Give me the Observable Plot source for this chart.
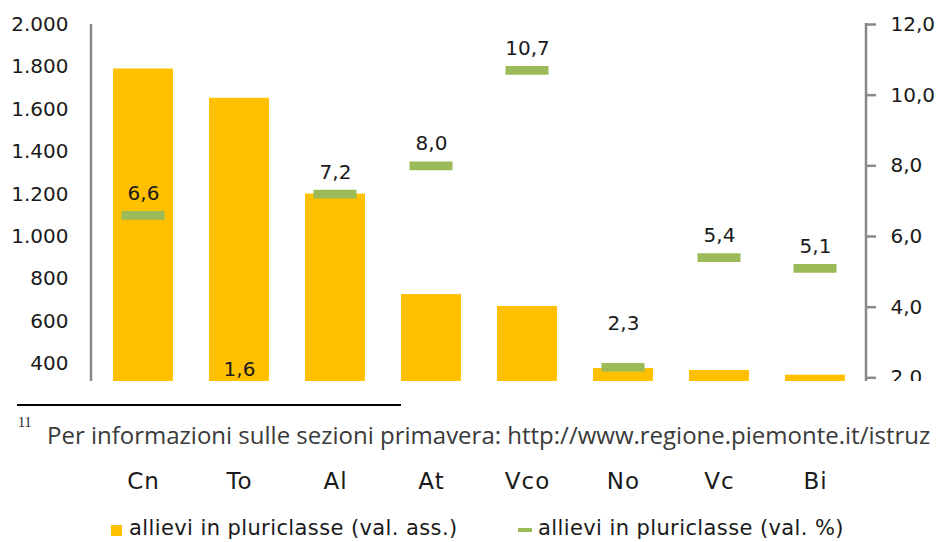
<!DOCTYPE html>
<html>
<head>
<meta charset="utf-8">
<script src="https://cdn.jsdelivr.net/npm/d3@7"></script>
<script src="https://cdn.jsdelivr.net/npm/@observablehq/plot@0.6"></script>
<style>
  html, body { margin: 0; padding: 0; background: #fff; }
  #wrap { position: relative; width: 936px; height: 542px; overflow: hidden; font-family: "DejaVu Sans", sans-serif; color: #1a1a1a; }
  #wrap svg { position: absolute; left: 0; top: 0; }
  #foot { position: absolute; left: 0; top: 381px; width: 936px; height: 73px; background: #fff; overflow: hidden; }
  #foot .rule { position: absolute; left: 17px; top: 23px; width: 384px; height: 2px; background: #000; }
  #foot .sup { position: absolute; left: 18px; top: 34px; font-family: "Liberation Serif", serif; font-size: 14px; color: #222; }
  #foot .txt { position: absolute; left: 47px; top: 42px; font-family: "Open Sans", sans-serif; font-size: 24px; color: #3a3a3a; white-space: nowrap; line-height: 1; }
  .leg { position: absolute; font-size: 21px; letter-spacing: 0.4px; white-space: nowrap; line-height: 1; }
  .sw { position: absolute; }
</style>
</head>
<body>
<div id="wrap"></div>
<script>
const categories = ["Cn", "To", "Al", "At", "Vco", "No", "Vc", "Bi"];
const allieviAss = [1790, 1652, 1200, 726, 670, 377, 368, 346];
const allieviPct = [6.6, 1.6, 7.2, 8.0, 10.7, 2.3, 5.4, 5.1];
const leftTicks = [400, 600, 800, 1000, 1200, 1400, 1600, 1800, 2000];
const rightTicks = [2, 4, 6, 8, 10, 12];
const seriesNames = ["allievi in pluriclasse (val. ass.)", "allievi in pluriclasse (val. %)"];
const footnoteNumber = "11";
const footnoteText = "Per informazioni sulle sezioni primavera: http://www.regione.piemonte.it/istruz";

const it = d3.formatLocale({decimal: ",", thousands: ".", grouping: [3], currency: ["", " €"]});
const fmtInt = it.format(",");
const fmtPct = it.format(",.1f");

const data = categories.map((c, i) => ({cat: c, ass: allieviAss[i], pct: allieviPct[i]}));

const BAR = "#FFC000", GREEN = "#9BBB59", AXIS = "#898989";
const common = {
  width: 936, height: 500,
  marginTop: 24, marginBottom: 52, marginLeft: 91, marginRight: 70,
  style: {fontFamily: "'DejaVu Sans', sans-serif", fontSize: "20px", color: "#1a1a1a", background: "transparent", overflow: "visible"}
};
const xScale = {domain: categories, paddingInner: 0.38, paddingOuter: 0.19, label: null};

function vline(getX, extend) {
  return (index, scales, values, dim) => {
    const l = document.createElementNS("http://www.w3.org/2000/svg", "line");
    const x = getX(dim);
    l.setAttribute("x1", x); l.setAttribute("x2", x);
    l.setAttribute("y1", dim.marginTop - extend); l.setAttribute("y2", dim.height - dim.marginBottom);
    l.setAttribute("stroke", AXIS); l.setAttribute("stroke-width", 2.5);
    return l;
  };
}

const p1 = Plot.plot({
  ...common,
  x: xScale,
  y: {domain: [0, 2000], label: null},
  marks: [
    Plot.barY(data, {x: "cat", y: "ass", fill: BAR}),
    Plot.axisY({ticks: leftTicks, tickSize: 0, tickPadding: 23, tickFormat: fmtInt, label: null, fontSize: 20}),
    Plot.axisX({tickSize: 0, tickPadding: 24, label: null, fontSize: 23, style: "letter-spacing:1px"}),
    vline(d => d.marginLeft, 0)
  ]
});
p1.querySelectorAll("g[aria-label='x-axis tick label'] text").forEach(t => t.setAttribute("letter-spacing", "1px"));

const p2 = Plot.plot({
  ...common,
  x: {...xScale, axis: null},
  y: {domain: [0, 12], label: null, axis: null},
  marks: [
    Plot.tickY(data, {x: "cat", y: "pct", stroke: GREEN, strokeWidth: 8.7, inset: 8.5}),
    Plot.text(data, {filter: d => d.cat !== "No", x: "cat", y: "pct", text: d => fmtPct(d.pct), dy: -22, fontSize: 20, fill: "#1a1a1a"}),
    Plot.text(data, {filter: d => d.cat === "No", x: "cat", y: "pct", text: d => fmtPct(d.pct), dy: -44, fontSize: 20, fill: "#1a1a1a"}),
    Plot.axisY({anchor: "right", ticks: rightTicks, tickSize: 9, tickPadding: 15, tickFormat: fmtPct, stroke: AXIS, strokeWidth: 2.5, label: null, fontSize: 20}),
    vline(d => d.width - d.marginRight, 1)
  ]
});

const wrap = document.getElementById("wrap");
wrap.appendChild(p1);
wrap.appendChild(p2);

const foot = document.createElement("div");
foot.id = "foot";
foot.innerHTML = `<div class="rule"></div><div class="sup">${footnoteNumber}</div><div class="txt">${footnoteText}</div>`;
wrap.appendChild(foot);

const leg = document.createElement("div");
leg.innerHTML =
  `<div class="sw" style="left:111px;top:525px;width:11px;height:11px;background:${BAR}"></div>` +
  `<div class="leg" style="left:129px;top:518px">${seriesNames[0]}</div>` +
  `<div class="sw" style="left:518px;top:528px;width:14px;height:4px;background:${GREEN}"></div>` +
  `<div class="leg" style="left:538px;top:518px">${seriesNames[1]}</div>`;
wrap.appendChild(leg);
</script>
</body>
</html>
